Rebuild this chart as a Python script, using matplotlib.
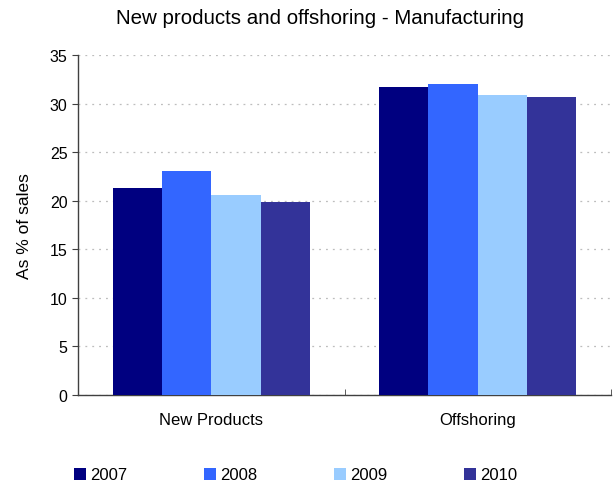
import matplotlib
matplotlib.use("Agg")
import matplotlib.pyplot as plt
import numpy as np
from matplotlib.patches import Patch

categories = ["New Products", "Offshoring"]
years = ["2007", "2008", "2009", "2010"]
values = {
    "2007": [21.3, 31.7],
    "2008": [23.1, 32.0],
    "2009": [20.6, 30.9],
    "2010": [19.9, 30.7],
}
colors = ["#000080", "#3366FF", "#99CCFF", "#333399"]
yticks = [0, 5, 10, 15, 20, 25, 30, 35]

plt.rcParams['font.family'] = ['Liberation Sans', 'DejaVu Sans']

fig = plt.figure(figsize=(6.16, 4.89), dpi=100)
ax = fig.add_axes([78/616, 1-396/489, (611-78)/616, (396-56)/489])

x = np.arange(len(categories))
bw = 0.185
for i, y in enumerate(years):
    ax.bar(x + (i - 1.5) * bw, values[y], width=bw, color=colors[i], zorder=3)

ax.set_xlim(-0.5, len(categories) - 0.5)
ax.set_ylim(0, 35)
ax.set_yticks(yticks)
ax.set_xticks(x)
ax.set_xticklabels(categories, fontsize=12)
ax.set_xticks([-0.5, 0.5, 1.5], minor=True)
ax.tick_params(axis='x', which='major', length=0, pad=12)
ax.tick_params(axis='x', which='minor', direction='in', length=4, color='#404040')
ax.tick_params(axis='y', direction='out', length=4, labelsize=11.5, color='#404040')
ax.yaxis.grid(True, linestyle=(0, (1.5, 4)), color='#BDBDBD', linewidth=0.9, zorder=0)
ax.set_axisbelow(True)
for s in ['top', 'right']:
    ax.spines[s].set_visible(False)
for s in ['left', 'bottom']:
    ax.spines[s].set_color('#404040')
    ax.spines[s].set_linewidth(1.0)

ax.set_ylabel("As % of sales", fontsize=12.5, labelpad=13)

fig.text(320/616, 1-18/489, "New products and offshoring - Manufacturing",
         ha='center', va='center', fontsize=14.8)

handles = [Patch(facecolor=c, edgecolor='none') for c in colors]
fig.legend(handles, years, loc='center', bbox_to_anchor=(296/616, 1-476/489),
           ncol=4, frameon=False, fontsize=12, handlelength=0.72,
           handleheight=0.72, handletextpad=0.25, columnspacing=4.6,
           borderaxespad=0)

fig.savefig("out.png", dpi=100)
